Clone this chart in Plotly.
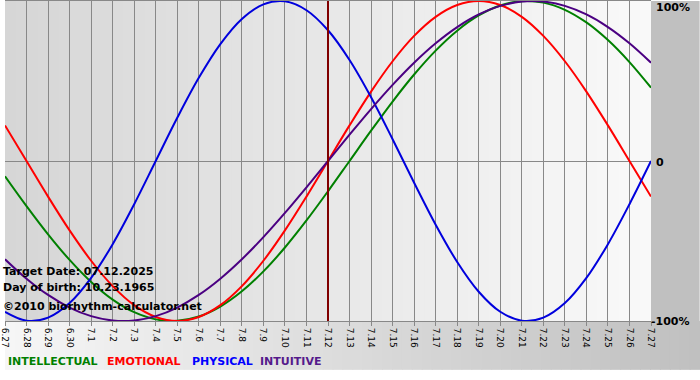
import plotly.graph_objects as go

# ---- data -------------------------------------------------------------
dates = ["6.27", "6.28", "6.29", "6.30"] + [f"7.{d}" for d in range(1, 28)]
target_label = "7.12"

intellectual = [-0.0951, -0.2817, -0.4582, -0.6182, -0.7557, -0.8660, -0.9450, -0.9898,
                -0.9989, -0.9718, -0.9096, -0.8146, -0.6901, -0.5406, -0.3717, -0.1893,
                0.0, 0.1893, 0.3717, 0.5406, 0.6901, 0.8146, 0.9096, 0.9718,
                0.9989, 0.9898, 0.9450, 0.8660, 0.7557, 0.6182, 0.4582]
emotional = [0.2225, 0.0, -0.2225, -0.4339, -0.6235, -0.7818, -0.9010, -0.9749,
             -1.0, -0.9749, -0.9010, -0.7818, -0.6235, -0.4339, -0.2225, 0.0,
             0.2225, 0.4339, 0.6235, 0.7818, 0.9010, 0.9749, 1.0, 0.9749,
             0.9010, 0.7818, 0.6235, 0.4339, 0.2225, 0.0, -0.2225]
physical = [-0.9423, -0.9977, -0.9791, -0.8880, -0.7308, -0.5196, -0.2698, 0.0,
            0.2698, 0.5196, 0.7308, 0.8880, 0.9791, 0.9977, 0.9423, 0.8170,
            0.6311, 0.3984, 0.1362, -0.1362, -0.3984, -0.6311, -0.8170, -0.9423,
            -0.9977, -0.9791, -0.8880, -0.7308, -0.5196, -0.2698, 0.0]
intuitive = [-0.6142, -0.7357, -0.8372, -0.9158, -0.9694, -0.9966, -0.9966, -0.9694,
             -0.9158, -0.8372, -0.7357, -0.6142, -0.4759, -0.3247, -0.1646, 0.0,
             0.1646, 0.3247, 0.4759, 0.6142, 0.7357, 0.8372, 0.9158, 0.9694,
             0.9966, 0.9966, 0.9694, 0.9158, 0.8372, 0.7357, 0.6142]

series_names = ["INTELLECTUAL", "EMOTIONAL", "PHYSICAL", "INTUITIVE"]
y_tick_text = ["-100%", "0", "100%"]
info_lines = ["Target Date: 07.12.2025", "Day of birth: 10.23.1965",
              "\u00a92010 biorhythm-calculator.net"]

# ---- geometry / style -------------------------------------------------
W, H = 700, 380
ML, MR, MT, MB = 0, 49, 0, 59
PW, PH = W - ML - MR, H - MT - MB


def px_x(px):
    return (px - ML) / PW


def px_y(py):
    return 1 - (py - MT) / PH


line_colors = ["#008000", "#ff0000", "#0000dd", "#4b0082"]
legend_colors = ["#008000", "#ff0000", "#0000ff", "#551a8b"]
x = list(range(len(dates)))
n = len(dates) - 1

fig = go.Figure()
for name, vals, col in zip(series_names, [intellectual, emotional, physical, intuitive], line_colors):
    fig.add_trace(go.Scatter(x=x, y=vals, mode="lines", name=name,
                             line=dict(color=col, width=2, shape="spline", smoothing=1.0),
                             hoverinfo="skip"))

shapes = []
# plot-area gradient (left grey -> right near white)
N = 60
for i in range(N):
    t = i / (N - 1)
    c = int(round(214 + (249 - 214) * t))
    shapes.append(dict(type="rect", xref="paper", yref="paper",
                       x0=i / N, x1=(i + 1) / N + 0.002, y0=0, y1=1,
                       fillcolor=f"rgb({c},{c},{c})", line=dict(width=0), layer="below"))
# right margin grey
shapes.append(dict(type="rect", xref="paper", yref="paper",
                   x0=1, x1=px_x(W), y0=0, y1=1,
                   fillcolor="rgb(192,192,192)", line=dict(width=0), layer="below"))
# bottom band gradient
band_bottom = px_y(370)
M = 70
for i in range(M):
    t = i / (M - 1)
    c = int(round(246 + (192 - 246) * t))
    shapes.append(dict(type="rect", xref="paper", yref="paper",
                       x0=px_x(i * W / M), x1=px_x((i + 1) * W / M + 1), y0=band_bottom, y1=0,
                       fillcolor=f"rgb({c},{c},{c})", line=dict(width=0), layer="below"))
# target-date marker
ti = dates.index(target_label)
shapes.append(dict(type="line", xref="x", yref="paper", x0=ti, x1=ti, y0=0, y1=1,
                   line=dict(color="#800000", width=2), layer="above"))

annotations = []
bold = dict(family="DejaVu Sans", size=11, color="#000000")
for txt, py in zip(y_tick_text, [322, 162, 7]):
    annotations.append(dict(text=f"<b>{txt}</b>", xref="paper", yref="paper",
                            x=px_x(651 if txt == "-100%" else 656), y=px_y(py),
                            xanchor="left", yanchor="middle", showarrow=False,
                            xshift=-2, font=bold))
for txt, py in zip(info_lines, [271, 287, 306]):
    annotations.append(dict(text=f"<b>{txt}</b>", xref="paper", yref="paper",
                            x=px_x(0), y=px_y(py), xanchor="left", yanchor="middle",
                            showarrow=False, xshift=-4, font=bold))
for txt, col, lx in zip(series_names, legend_colors, [5, 105, 190, 259]):
    annotations.append(dict(text=f"<b>{txt}</b>", xref="paper", yref="paper",
                            x=px_x(lx), y=px_y(361.5), xanchor="left", yanchor="middle",
                            showarrow=False, xshift=-4,
                            font=dict(family="DejaVu Sans", size=11, color=col)))

fig.update_layout(
    width=W, height=H,
    margin=dict(l=ML, r=MR, t=MT, b=MB),
    paper_bgcolor="#ffffff",
    plot_bgcolor="rgba(0,0,0,0)",
    showlegend=False,
    shapes=shapes,
    annotations=annotations,
    xaxis=dict(range=[0, n], tickvals=x, ticktext=dates, tickangle=90,
               tickfont=dict(family="DejaVu Sans", size=9, color="#000000"),
               ticklabeloverflow="allow",
               showgrid=True, gridcolor="#888888", gridwidth=1,
               ticks="outside", ticklen=4, tickcolor="#888888",
               showline=True, linecolor="#888888", linewidth=1, mirror=True,
               zeroline=False, fixedrange=True),
    yaxis=dict(range=[-1, 1], showgrid=False, showticklabels=False, ticks="",
               zeroline=True, zerolinecolor="#888888", zerolinewidth=1,
               showline=False, fixedrange=True),
)

fig.write_html("out.html", config={"displayModeBar": False},
               post_script="document.body.style.margin='0';document.body.style.padding='0';")
